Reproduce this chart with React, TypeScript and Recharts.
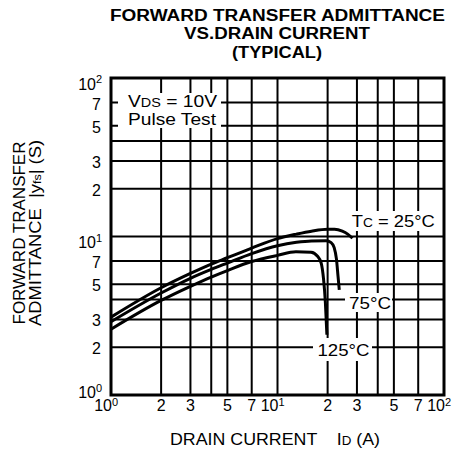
import { LineChart, Line, XAxis, YAxis, CartesianGrid, ReferenceArea } from "recharts";

const FONT = "'Liberation Sans', Arial, Helvetica, sans-serif";

const X_TICKS = [1, 2, 3, 4, 5, 7, 10, 20, 30, 40, 50, 70, 100];
const Y_TICKS = [1, 2, 3, 4, 5, 7, 10, 20, 30, 40, 50, 70, 100];

// [base, exponent]; 4 and 40 only get a grid line
const TICK_LABELS: Record<number, [string, string]> = {
  1: ["10", "0"],
  2: ["2", ""],
  3: ["3", ""],
  5: ["5", ""],
  7: ["7", ""],
  10: ["10", "1"],
  20: ["2", ""],
  30: ["3", ""],
  50: ["5", ""],
  70: ["7", ""],
  100: ["10", "2"],
};

// drain current (A) / |yfs| (S)
const ID_25C = [1, 2, 3, 4, 5, 7, 10, 13, 16, 20, 22, 24.5, 26.4, 28.2];
const YFS_25C = [3.1, 4.75, 5.85, 6.7, 7.35, 8.45, 9.7, 10.35, 10.8, 11.1, 11.1, 10.8, 10.35, 9.75];

const ID_75C = [1, 2, 3, 4, 5, 7, 10, 13, 16, 19.6, 21, 21.9, 22.6, 23.1, 23.5];
const YFS_75C = [2.9, 4.4, 5.45, 6.2, 6.8, 7.8, 8.75, 9.2, 9.38, 9.4, 9.15, 8.5, 7.2, 5.6, 4.6];

const ID_125C = [1, 2, 3, 4, 5, 7, 10, 12.9, 15.9, 17.4, 18.3, 18.9, 19.4, 19.8];
const YFS_125C = [2.6, 3.95, 4.85, 5.55, 6.1, 6.95, 7.6, 8.0, 7.95, 7.5, 6.8, 5.4, 3.8, 2.4];

const toPoints = (xs: number[], ys: number[]) => xs.map((x, i) => ({ x, y: ys[i] }));

const SERIES = [
  { name: "25C", data: toPoints(ID_25C, YFS_25C) },
  { name: "75C", data: toPoints(ID_75C, YFS_75C) },
  { name: "125C", data: toPoints(ID_125C, YFS_125C) },
];

function XTick({ x, payload }: any) {
  const [base, exp] = TICK_LABELS[payload.value] ?? ["", ""];
  if (!base) return <g />;
  if (!exp)
    return (
      <text x={x} y={411} textAnchor="middle" fontSize={16} fontFamily={FONT} fill="#000">
        {base}
      </text>
    );
  return (
    <g fontFamily={FONT} fill="#000">
      <text x={x + 1} y={411} textAnchor="end" fontSize={16}>
        {base}
      </text>
      <text x={x + 1} y={406} fontSize={11}>
        {exp}
      </text>
    </g>
  );
}

function YTick({ y, payload }: any) {
  const [base, exp] = TICK_LABELS[payload.value] ?? ["", ""];
  if (!base) return <g />;
  if (!exp)
    return (
      <text x={101} y={y + 7} textAnchor="end" fontSize={16} fontFamily={FONT} fill="#000">
        {base}
      </text>
    );
  // the bottom decade label sits above the corner so it clears the x label
  const dy = payload.value === 1 ? 3 : 11.5;
  return (
    <g fontFamily={FONT} fill="#000">
      <text x={96} y={y + dy} textAnchor="end" fontSize={16}>
        {base}
      </text>
      <text x={96} y={y + dy - 6.5} fontSize={11}>
        {exp}
      </text>
    </g>
  );
}

function Labels() {
  return (
    <svg
      width={459}
      height={461}
      style={{ position: "absolute", left: 0, top: 0, pointerEvents: "none" }}
      fontFamily={FONT}
      fill="#000"
    >
      <g fontWeight="bold" fontSize={16} textAnchor="middle">
        <text x={277.5} y={20.7} textLength={335} lengthAdjust="spacingAndGlyphs">
          FORWARD TRANSFER ADMITTANCE
        </text>
        <text x={277} y={39.3} textLength={186} lengthAdjust="spacingAndGlyphs">
          VS.DRAIN CURRENT
        </text>
        <text x={277} y={58} textLength={90} lengthAdjust="spacingAndGlyphs">
          (TYPICAL)
        </text>
      </g>

      <g fontSize={16} textAnchor="middle">
        <text transform="translate(25,233) rotate(-90)" textLength={183} lengthAdjust="spacingAndGlyphs">
          FORWARD TRANSFER
        </text>
        <text
          transform="translate(41,233) rotate(-90)"
          textLength={186}
          lengthAdjust="spacingAndGlyphs"
          xmlSpace="preserve"
        >
          {"ADMITTANCE  |y"}
          <tspan fontSize={11}>fs</tspan>
          {"| (S)"}
        </text>
      </g>

      <text x={170} y={445} fontSize={16} textLength={210} lengthAdjust="spacingAndGlyphs" xmlSpace="preserve">
        {"DRAIN CURRENT    I"}
        <tspan fontSize={12}>D</tspan>
        {" (A)"}
      </text>

      <rect x={118} y={93} width={103} height={35} fill="#fff" />
      <text x={128} y={106.7} fontSize={16} textLength={89} lengthAdjust="spacingAndGlyphs">
        V<tspan fontSize={12}>DS</tspan> = 10V
      </text>
      <text x={128} y={124.5} fontSize={16} textLength={88} lengthAdjust="spacingAndGlyphs">
        Pulse Test
      </text>

      <rect x={349} y={211} width={91} height={20} fill="#fff" />
      <text x={351.7} y={226.7} fontSize={16} textLength={83} lengthAdjust="spacingAndGlyphs">
        T<tspan fontSize={12}>C</tspan> = 25°C
      </text>

      <rect x={345} y={293} width={47} height={19} fill="#fff" />
      <text x={349} y={309.3} fontSize={16} textLength={42} lengthAdjust="spacingAndGlyphs">
        75°C
      </text>

      <rect x={313} y={338} width={59} height={23} fill="#fff" />
      <text x={317.5} y={356} fontSize={16} textLength={52} lengthAdjust="spacingAndGlyphs">
        125°C
      </text>
    </svg>
  );
}

export default function App() {
  return (
    <div style={{ position: "absolute", left: 0, top: 0, width: 459, height: 461, background: "#fff" }}>
      <LineChart width={459} height={461} margin={{ top: 78, right: 15, bottom: 0, left: 0 }}>
        <CartesianGrid stroke="#000" strokeWidth={2} />
        <XAxis
          dataKey="x"
          type="number"
          scale="log"
          domain={[1, 100]}
          ticks={X_TICKS}
          interval={0}
          allowDataOverflow
          axisLine={false}
          tickLine={false}
          height={66}
          tick={<XTick />}
        />
        <YAxis
          type="number"
          scale="log"
          domain={[1, 100]}
          ticks={Y_TICKS}
          interval={0}
          allowDataOverflow
          axisLine={false}
          tickLine={false}
          width={111}
          tick={<YTick />}
        />
        <ReferenceArea x1={1} x2={100} y1={1} y2={100} fill="none" stroke="#000" strokeWidth={3} />
        {SERIES.map((s) => (
          <Line
            key={s.name}
            data={s.data}
            dataKey="y"
            type="monotone"
            stroke="#000"
            strokeWidth={3}
            dot={false}
            isAnimationActive={false}
          />
        ))}
      </LineChart>
      <Labels />
    </div>
  );
}
